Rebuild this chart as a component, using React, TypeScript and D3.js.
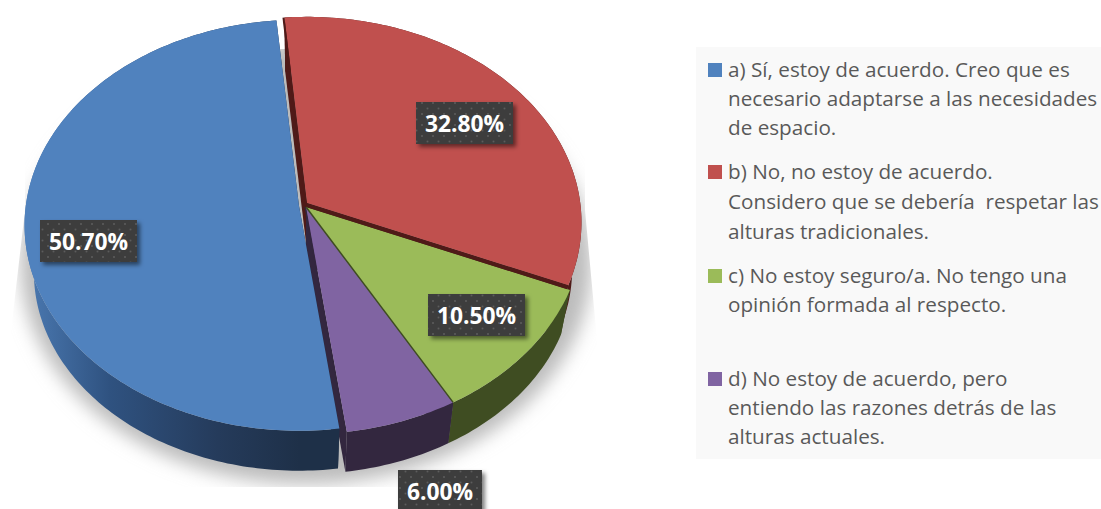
import React from "react";
import * as d3 from "d3";

const categories = ["a", "b", "c", "d"];
const values = [50.7, 32.8, 10.5, 6.0];
const valueLabels = ["50.70%", "32.80%", "10.50%", "6.00%"];
const faceColors = ["#5082be", "#c0504e", "#9bbb59", "#8064a2"];
const wallColors = ["url(#blueWall)", "#4f1a18", "#3f4d22", "#33273f"];
const apexX = [299, 307, 306, 306];
const apexY = [206, 203, 207, 207];
const sliceScale = [0.99, 0.99, 1, 1];
const labelBoxes = [
  [40, 220, 97, 42],
  [416, 102, 97, 42],
  [428, 294, 97, 42],
  [398, 470, 84, 42],
];
const legendLines = [
  ["a) Sí, estoy de acuerdo. Creo que es", "necesario adaptarse a las necesidades", "de espacio."],
  ["b) No, no estoy de acuerdo.", "Considero que se debería  respetar las", "alturas tradicionales."],
  ["c) No estoy seguro/a. No tengo una", "opinión formada al respecto."],
  ["d) No estoy de acuerdo, pero", "entiendo las razones detrás de las", "alturas actuales."],
];
const legendBaselines = [
  [77, 106, 135],
  [179, 209, 239],
  [283, 312],
  [386, 415, 444],
];

const W = 1101;
const H = 509;
const A = 276;
const B = 205.7;
const P = 0.094;
const S = 0.966;
const DEPTH = 47.6;
const START = (172.3 * Math.PI) / 180;

const pieGen = d3
  .pie<number>()
  .sort(null)
  .value((d) => d)
  .startAngle(START)
  .endAngle(START + 2 * Math.PI);
const arcs = pieGen(values);

type Pt = [number, number];
const project = (t: number, i: number): Pt => {
  const u = Math.sin(t);
  const v = -Math.cos(t);
  const w = 1 - P * v;
  const s = sliceScale[i];
  return [apexX[i] + (s * A * u) / w, apexY[i] + (s * B * v) / w];
};
const lower = ([x, y]: Pt, i: number): Pt => [
  apexX[i] + S * (x - apexX[i]),
  apexY[i] + DEPTH + S * (y - apexY[i]),
];
const sample = (a: number, b: number) => {
  const n = Math.max(8, Math.ceil(((b - a) * 180) / Math.PI));
  return d3.range(n + 1).map((k) => a + ((b - a) * k) / n);
};
const line = d3.line<Pt>().x((d) => d[0]).y((d) => d[1]);

const facePath = (i: number) => {
  const apex: Pt = [apexX[i], apexY[i]];
  const arc = sample(arcs[i].startAngle, arcs[i].endAngle).map((t) => project(t, i));
  return line([apex, ...arc]) + "Z";
};
const outerWall = (i: number) => {
  const arc = sample(arcs[i].startAngle, arcs[i].endAngle).map((t) => project(t, i));
  return line([...arc, ...arc.slice().reverse().map((p) => lower(p, i))]) + "Z";
};
const radialWall = (i: number, t: number) => {
  const apex: Pt = [apexX[i], apexY[i]];
  const p = project(t, i);
  return line([apex, p, lower(p, i), lower(apex, i)]) + "Z";
};

const silhouette = (() => {
  const pts = sample(0, 2 * Math.PI).map((t) => {
    const p = project(t, 2);
    return [303 + (p[0] - 303) * 1.03, 40 + (p[1] - 17) * 1.065] as Pt;
  });
  return line(pts) + "Z";
})();

const FONT = "'Open Sans', sans-serif";
const drawOrder = [1, 2, 3, 0];

export default function App() {
  return (
    <svg
      width={W}
      height={H}
      viewBox={`0 0 ${W} ${H}`}
      style={{ position: "absolute", left: 0, top: 0, display: "block", background: "#fff" }}
    >
      <defs>
        <linearGradient id="blueWall" gradientUnits="userSpaceOnUse" x1="28" x2="300" y1="0" y2="0">
          <stop offset="0" stopColor="#4a78b0" />
          <stop offset="0.3" stopColor="#2f5280" />
          <stop offset="0.7" stopColor="#253b5b" />
          <stop offset="1" stopColor="#1e3048" />
        </linearGradient>
        <filter id="blurShadow" x="-10%" y="-10%" width="120%" height="120%">
          <feGaussianBlur stdDeviation="9" />
        </filter>
        <filter id="labelShadow" x="-20%" y="-30%" width="150%" height="170%">
          <feDropShadow dx="3" dy="3" stdDeviation="2.2" floodColor="#000" floodOpacity="0.5" />
        </filter>
        <clipPath id="shadowClip">
          <polygon points="279,49 585,49 585,210 597,340 597,487 10,487 10,340 25,210 25,49" />
        </clipPath>
        <pattern id="dots" patternUnits="userSpaceOnUse" width="11" height="11" x="2" y="2">
          <rect width="11" height="11" fill="#3c3c3c" />
          <circle cx="2" cy="2" r="1" fill="#5c5c5c" />
          <circle cx="7.5" cy="7.5" r="1" fill="#5c5c5c" />
        </pattern>
      </defs>

      <g clipPath="url(#shadowClip)">
        <path d={silhouette} fill="#bcbcbc" filter="url(#blurShadow)" />
      </g>

      <g>
        {drawOrder.map((i) => (
          <g key={categories[i] + "w"}>
            <path d={radialWall(i, arcs[i].startAngle)} fill={i === 0 ? "#1e3048" : wallColors[i]} />
            <path d={radialWall(i, arcs[i].endAngle)} fill={i === 0 ? "#1e3048" : wallColors[i]} />
            <path d={outerWall(i)} fill={wallColors[i]} />
          </g>
        ))}
      </g>

      {drawOrder.map((i) => (
        <path key={categories[i]} d={facePath(i)} fill={faceColors[i]} />
      ))}

      {[arcs[1].startAngle, arcs[1].endAngle].map((t, k) => {
        const p = project(t, 1);
        const dx = k === 0 ? -1 : -0.5;
        const dy = k === 0 ? 0 : 2;
        return (
          <line
            key={k}
            x1={apexX[1] + dx}
            y1={apexY[1] + dy}
            x2={p[0] + dx}
            y2={p[1] + dy}
            stroke="#4f1a18"
            strokeWidth={k === 0 ? 2 : 4}
          />
        );
      })}
      {(() => {
        const p = project(arcs[2].endAngle, 2);
        return <line x1={apexX[2]} y1={apexY[2]} x2={p[0]} y2={p[1]} stroke="#3f4d22" strokeWidth={1.5} />;
      })()}
      {(() => {
        const p = project(arcs[3].endAngle, 3);
        return <line x1={apexX[3] - 1} y1={apexY[3]} x2={p[0] - 1} y2={p[1]} stroke="#33273f" strokeWidth={1} />;
      })()}

      {labelBoxes.map(([x, y, w, h], i) => (
        <g key={valueLabels[i]}>
          <rect x={x} y={y} width={w} height={h} fill="url(#dots)" filter="url(#labelShadow)" />
          <text
            x={x + w / 2}
            y={y + h / 2 + 9}
            textAnchor="middle"
            fontFamily={FONT}
            fontWeight={700}
            fontSize={22.8}
            fill="#fff"
          >
            {valueLabels[i]}
          </text>
        </g>
      ))}

      <rect x={696} y={47} width={405} height={412} fill="#f9f9f9" />
      {legendLines.map((lines, i) => (
        <g key={categories[i] + "l"}>
          <rect x={708} y={legendBaselines[i][0] - 14} width={14} height={14} fill={faceColors[i]} />
          {lines.map((t, k) => (
            <text
              key={k}
              x={728}
              y={legendBaselines[i][k]}
              fontFamily={FONT}
              fontSize={20.7}
              fill="#595959"
              style={{ whiteSpace: "pre" }}
            >
              {t}
            </text>
          ))}
        </g>
      ))}
    </svg>
  );
}
